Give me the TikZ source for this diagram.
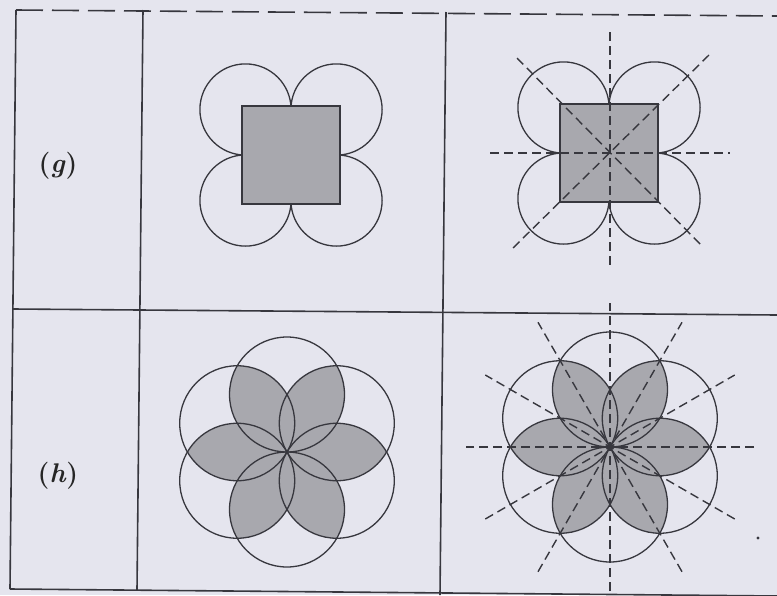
\documentclass[tikz,border=0pt]{standalone}
\usepackage{fontspec}
\usetikzlibrary{calc}
\definecolor{paper}{RGB}{229,229,238}
\definecolor{ink}{RGB}{55,55,62}
\definecolor{petalgray}{RGB}{168,168,174}
\tikzset{
  tableline/.style={draw=ink, line width=1.6pt},
  topdash/.style={draw=ink, line width=1.6pt, dash pattern=on 27pt off 9pt},
  outline/.style={draw=ink, line width=1.3pt},
  symline/.style={draw=ink, line width=1.4pt, dash pattern=on 9pt off 5pt},
  rowlabel/.style={font=\fontsize{27}{31}\selectfont\bfseries, text=black!85, inner sep=0pt}
}
\begin{document}
\begin{tikzpicture}[x=1pt,y=-1pt]
\fill[paper] (0,0) rectangle (777,595);
\useasboundingbox (0,0) rectangle (777,595);

% table
\draw[topdash] (16,10) -- (777,16);
\draw[tableline] (16,10) -- (10,589);
\draw[tableline] (143,10) -- (137,590);
\draw[tableline] (446,12) -- (440,595);
\draw[tableline] (13,309) -- (777,315);
\draw[tableline] (10,589) -- (777,596);

% labels
\node[rowlabel] (g) at (58,166) {(\textit{g})};
\node[rowlabel] (h) at (58,476) {(\textit{h})};

% (g) left: square with four circles
\begin{scope}[shift={(291,155)}]
  \foreach \sx/\sy in {1/1,1/-1,-1/1,-1/-1}
    \draw[outline] (45.5*\sx,45.5*\sy) circle[radius=45.6];
  \filldraw[fill=petalgray, outline] (-49,-49) rectangle (49,49);
\end{scope}

% (g) right: same with lines of symmetry
\begin{scope}[shift={(609,153)}]
  \foreach \sx/\sy in {1/1,1/-1,-1/1,-1/-1}
    \draw[outline] (45.5*\sx,45.5*\sy) circle[radius=45.6];
  \filldraw[fill=petalgray, outline] (-49,-49) rectangle (49,49);
  \draw[symline] (1,-121) -- (1,115);
  \draw[symline] (-119,0) -- (121,0);
  \draw[symline] (-92,-95) -- (94,94);
  \draw[symline] (100,-98) -- (-96,95);
\end{scope}

% (h) left: six circles, shaded petals
\begin{scope}[shift={(287,452)}]
  \def\rr{57.5}
  \foreach \a [evaluate=\a as \b using \a+60] in {90,150,210,270,330,30}{
    \begin{scope}
      \clip (\a:\rr) circle[radius=\rr];
      \fill[petalgray] (\b:\rr) circle[radius=\rr];
    \end{scope}
  }
  \foreach \a in {30,90,150,210,270,330}
    \draw[outline] (\a:\rr) circle[radius=\rr];
\end{scope}

% (h) right: same with six lines of symmetry
\begin{scope}[shift={(610,447)}]
  \def\rr{57.5}
  \foreach \a [evaluate=\a as \b using \a+60] in {90,150,210,270,330,30}{
    \begin{scope}
      \clip (\a:\rr) circle[radius=\rr];
      \fill[petalgray] (\b:\rr) circle[radius=\rr];
    \end{scope}
  }
  \foreach \a in {30,90,150,210,270,330}
    \draw[outline] (\a:\rr) circle[radius=\rr];
  \foreach \a in {0,30,60,90,120,150}
    \draw[symline] (\a:144) -- (\a+180:144);
\end{scope}
\fill[ink] (758,538) circle[radius=1.6];
\end{tikzpicture}
\end{document}
